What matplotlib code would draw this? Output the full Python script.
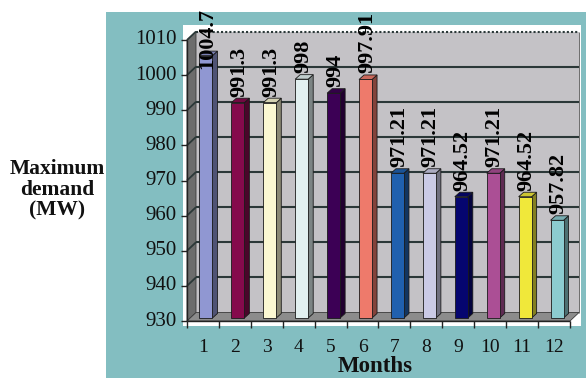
import matplotlib
matplotlib.use("Agg")
import matplotlib.pyplot as plt
from matplotlib.patches import Rectangle, Polygon
from matplotlib.lines import Line2D
import matplotlib.colors as mcolors

# ---- data ----
months = ["1", "2", "3", "4", "5", "6", "7", "8", "9", "10", "11", "12"]
demand_mw = [1004.7, 991.3, 991.3, 998, 994, 997.91, 971.21, 971.21,
             964.52, 971.21, 964.52, 957.82]
value_labels = ["1004.7", "991.3", "991.3", "998", "994", "997.91", "971.21",
                "971.21", "964.52", "971.21", "964.52", "957.82"]
y_ticks = [930, 940, 950, 960, 970, 980, 990, 1000, 1010]
bar_colors = ["#9097D2", "#850A4C", "#FBF8D2", "#E2F0F0", "#3C0055", "#EE7A6B",
              "#2060AE", "#CACAE6", "#05056F", "#AB4F95", "#F0E83A", "#8CCCD0"]

SERIF = "Liberation Serif"
W, H = 586, 378
fig = plt.figure(figsize=(W / 100, H / 100), dpi=100)
fig.patch.set_facecolor("white")

# teal chart area and white plot area
fig.add_artist(Rectangle((106 / W, 0), (W - 106) / W, (H - 12) / H,
                         transform=fig.transFigure, fc="#83BEC1", ec="none", zorder=-10))
fig.add_artist(Rectangle((183 / W, 1 - 326 / H), (581 - 183) / W, (326 - 25) / H,
                         transform=fig.transFigure, fc="white", ec="none", zorder=-9))

left_px, right_px, top_px, bot_px = 187, 570, 40, 321
ax = fig.add_axes([left_px / W, 1 - bot_px / H, (right_px - left_px) / W, (bot_px - top_px) / H])
ax.set_zorder(1)
ax.set_xlim(0.5, 12.5)
ax.set_ylim(930, 1010)
ax.axis("off")

px_x = (right_px - left_px) / 12.0
px_y = (bot_px - top_px) / 80.0
ux = lambda p: p / px_x
uy = lambda p: p / px_y

DX, DY = ux(9), uy(8.5)
grid_c = "#2B3838"


def seg(xs, ys, color, lw, z, ls="-"):
    ax.add_line(Line2D(xs, ys, color=color, lw=lw, ls=ls, zorder=z, clip_on=False,
                       solid_capstyle="butt"))


# walls and floor
ax.add_patch(Rectangle((0.5 + DX, 930 + DY), 12, 80, fc="#C4C2C6", ec="none", zorder=1, clip_on=False))
ax.add_patch(Polygon([(0.5, 930), (0.5, 1010), (0.5 + DX, 1010 + DY), (0.5 + DX, 930 + DY)],
                     closed=True, fc="#6D6D6D", ec="#3A3A3A", lw=0.6, zorder=1.1, clip_on=False))
ax.add_patch(Polygon([(0.5, 930), (12.5, 930), (12.5 + DX, 930 + DY), (0.5 + DX, 930 + DY)],
                     closed=True, fc="#8C8C8C", ec="#3A3A3A", lw=0.6, zorder=1.2, clip_on=False))

# gridlines on the back and side walls
for yv in y_ticks[1:]:
    ls = (0, (1, 1)) if yv == 1010 else "-"
    seg([0.5 + DX, 12.5 + DX], [yv + DY, yv + DY], grid_c, 1.5, 2.5, ls)
    seg([0.5, 0.5 + DX], [yv, yv + DY], grid_c, 1.3, 2.5)
seg([12.5 + DX, 12.5 + DX], [930 + DY, 1010 + DY], "#555555", 0.6, 2.5)

# axes lines and ticks
seg([0.5, 0.5], [930, 1010], "#222222", 1.0, 3)
seg([0.5, 12.5], [930, 930], "#222222", 1.0, 3)
for yv in y_ticks:
    seg([0.5 - ux(6), 0.5], [yv, yv], "#222222", 1.0, 3)
    ax.text(0.5 - ux(10), yv, str(yv), ha="right", va="center", fontsize=15,
            family=SERIF, color="#111111")
for k in range(13):
    xb = 0.5 + k
    seg([xb, xb], [930, 930 - uy(7)], "#222222", 1.0, 3)
for i, m in enumerate(months):
    ax.text(i + 1, 930 - uy(26), m, ha="center", va="center", fontsize=14,
            family=SERIF, color="#111111")


def shade(c, f):
    r, g, b = mcolors.to_rgb(c)
    return (r * f, g * f, b * f)


# 3D bars
bw = ux(13)
bdx, bdy = ux(5), uy(4.5)
ox, oy = ux(3), uy(3)
edge = "#1A1A1A"
fig.canvas.draw()
renderer = fig.canvas.get_renderer()
ceiling = H - 8
for i, (v, c, lab) in enumerate(zip(demand_mw, bar_colors, value_labels)):
    x0 = i + 1 - bw / 2 + ox
    y0 = 930 + oy
    top = v + oy
    ax.add_patch(Polygon([(x0 + bw, y0), (x0 + bw, top), (x0 + bw + bdx, top + bdy),
                          (x0 + bw + bdx, y0 + bdy)], closed=True, fc=shade(c, 0.55),
                         ec=edge, lw=0.6, zorder=4, clip_on=False))
    ax.add_patch(Polygon([(x0, top), (x0 + bw, top), (x0 + bw + bdx, top + bdy),
                          (x0 + bdx, top + bdy)], closed=True, fc=shade(c, 0.85),
                         ec=edge, lw=0.6, zorder=4, clip_on=False))
    ax.add_patch(Rectangle((x0, y0), bw, v - 930, fc=c, ec=edge, lw=0.6, zorder=5, clip_on=False))
    t = ax.text(x0 + bw / 2 + ux(1.5), top + uy(6), lab, rotation=90, ha="center", va="bottom",
                fontsize=16, fontweight="bold", family=SERIF, color="black",
                zorder=6, clip_on=False)
    bb = t.get_window_extent(renderer)
    if bb.y1 > ceiling:
        t.set_y(top + uy(6) - uy(bb.y1 - ceiling))

# axis titles
fig.text(57 / W, 1 - 190 / H, "Maximum\ndemand\n(MW)", ha="center", va="center",
         fontsize=15.5, fontweight="bold", family=SERIF, linespacing=1.05, color="#111111")
fig.text(375 / W, 1 - 366 / H, "Months", ha="center", va="center",
         fontsize=16.5, fontweight="bold", family=SERIF, color="#111111")

fig.savefig("out.png", dpi=100)
